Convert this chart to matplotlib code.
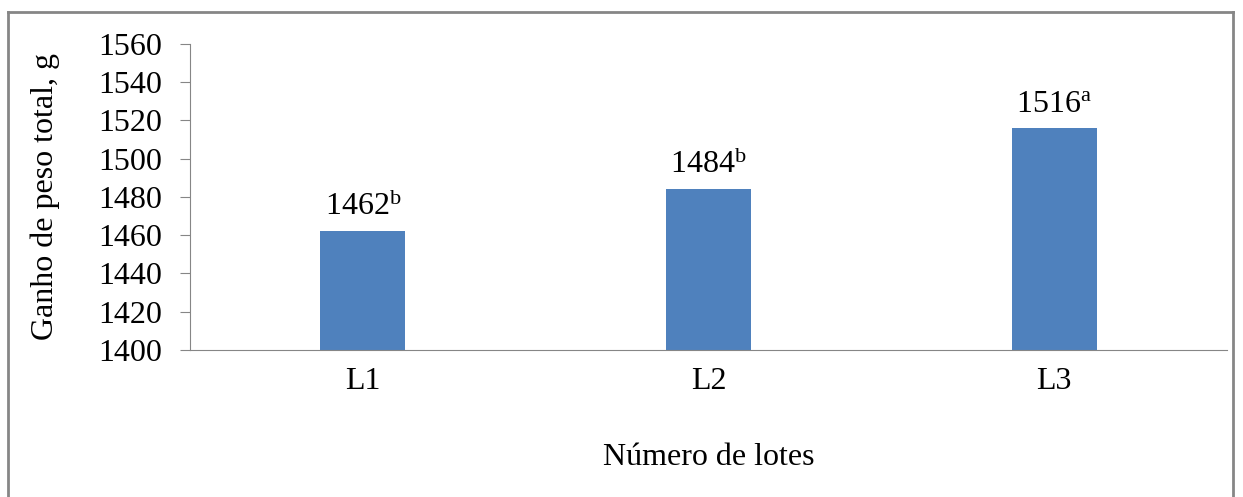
import matplotlib.pyplot as plt
from matplotlib.lines import Line2D

# Ganho de peso total por número de lotes
lotes = ['L1', 'L2', 'L3']
ganho = [1462, 1484, 1516]
letras = ['b', 'b', 'a']

plt.rcParams['font.family'] = ['Liberation Serif', 'DejaVu Serif']
plt.rcParams['mathtext.fontset'] = 'custom'
plt.rcParams['mathtext.rm'] = 'Liberation Serif'
plt.rcParams['mathtext.it'] = 'Liberation Serif'

fs = 23
fig = plt.figure(figsize=(12.43, 4.97), dpi=100)
ax = fig.add_axes([0.1529, 0.2958, 0.8342, 0.6157])

x = range(len(lotes))
ax.bar(x, ganho, width=0.246, color='#4F81BD')
for xi, v, l in zip(x, ganho, letras):
    ax.text(xi, v + 5, f'{v}$^{{\\mathrm{{{l}}}}}$', ha='center', va='bottom', fontsize=fs)

ax.set_xlim(-0.5, 2.5)
ax.set_ylim(1400, 1560)
ax.set_yticks(range(1400, 1561, 20))
ax.set_xticks(list(x))
ax.set_xticklabels(lotes)
ax.tick_params(axis='y', labelsize=fs, length=7, color='#868686', pad=13)
ax.tick_params(axis='x', labelsize=fs, length=0, pad=12)
for s in ['top', 'right']:
    ax.spines[s].set_visible(False)
for s in ['left', 'bottom']:
    ax.spines[s].set_color('#868686')
ax.set_ylabel('Ganho de peso total, g', fontsize=fs, labelpad=28)
ax.set_xlabel('Número de lotes', fontsize=fs, labelpad=34)

# moldura em volta do gráfico
fc = '#868686'
fig.add_artist(Line2D([8 / 1243, 8 / 1243], [0, 1 - 12 / 497], color=fc, lw=2, transform=fig.transFigure))
fig.add_artist(Line2D([8 / 1243, 1233 / 1243], [1 - 12 / 497, 1 - 12 / 497], color=fc, lw=2, transform=fig.transFigure))
fig.add_artist(Line2D([1233 / 1243, 1233 / 1243], [0, 1 - 12 / 497], color=fc, lw=2, transform=fig.transFigure))

fig.savefig('out.png', dpi=100)
